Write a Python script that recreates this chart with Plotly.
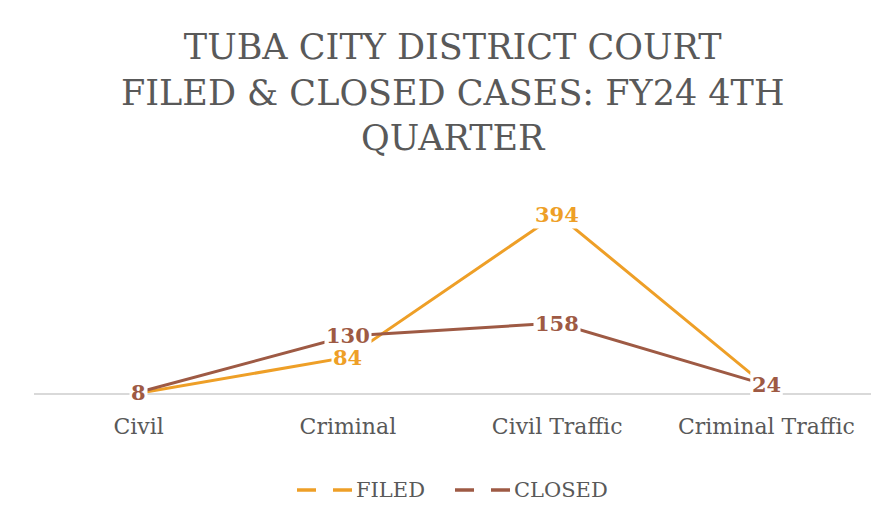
import plotly.graph_objects as go

categories = ["Civil", "Criminal", "Civil Traffic", "Criminal Traffic"]
filed = [6, 84, 394, 21]
closed = [8, 130, 158, 24]
series_names = ["FILED", "CLOSED"]
title_lines = ["TUBA CITY DISTRICT COURT", "FILED &amp; CLOSED CASES: FY24 4TH", "QUARTER"]

ORANGE = "#EE9F27"
BROWN = "#9E5A44"
GRAY = "#595959"
FONT = "DejaVu Serif"

PLOT_TOP, PLOT_BOTTOM = 188, 385
PLOT_L, PLOT_R = 26, 30
W, H = 893, 525

def py(p):
    return (PLOT_BOTTOM - p) / (PLOT_BOTTOM - PLOT_TOP)

def px(p):
    return (p - PLOT_L) / (W - PLOT_L - PLOT_R)

fig = go.Figure()
for name, vals, col in [(series_names[0], filed, ORANGE), (series_names[1], closed, BROWN)]:
    fig.add_trace(go.Scatter(
        x=categories, y=vals, name=name, mode="lines",
        line=dict(color=col, width=3), showlegend=False,
    ))

for vals, col in [(filed, ORANGE), (closed, BROWN)]:
    for c, v in zip(categories, vals):
        fig.add_annotation(
            x=c, y=v, text=f"<b>{v}</b>", showarrow=False,
            font=dict(family=FONT, size=21, color=col),
            bgcolor="white", borderpad=1,
        )

fig.add_annotation(
    xref="paper", yref="paper", x=0.5, y=py(17), xanchor="center", yanchor="top",
    text="<br>".join(title_lines), showarrow=False,
    font=dict(family=FONT, size=35, color=GRAY),
)

# legend drawn manually (long dashed samples as in the reference)
legend_y = 482
for name, col, x0 in [(series_names[0], ORANGE, 289), (series_names[1], BROWN, 447)]:
    for a, b in [(x0, x0 + 19), (x0 + 36, x0 + 55)]:
        fig.add_shape(type="line", xref="paper", yref="paper",
                      x0=px(a), x1=px(b), y0=py(legend_y), y1=py(legend_y),
                      line=dict(color=col, width=3.5))
    fig.add_annotation(xref="paper", yref="paper", x=px(x0 + 57), y=py(legend_y),
                       xanchor="left", yanchor="middle", text=name, showarrow=False,
                       font=dict(family=FONT, size=21, color=GRAY))

fig.update_layout(
    width=W, height=H,
    paper_bgcolor="white", plot_bgcolor="white",
    margin=dict(l=PLOT_L, r=PLOT_R, t=PLOT_TOP, b=H - PLOT_BOTTOM),
    xaxis=dict(
        type="category", range=[-0.5, 3.5], showgrid=False,
        showline=True, linecolor="#D9D9D9", linewidth=1.5,
        ticks="outside", ticklen=13, tickcolor="rgba(0,0,0,0)",
        tickfont=dict(family=FONT, size=22, color=GRAY),
        zeroline=False,
    ),
    yaxis=dict(range=[6.5, 433], visible=False, showgrid=False, zeroline=False),
    showlegend=False,
)

fig.write_html("out.html")
